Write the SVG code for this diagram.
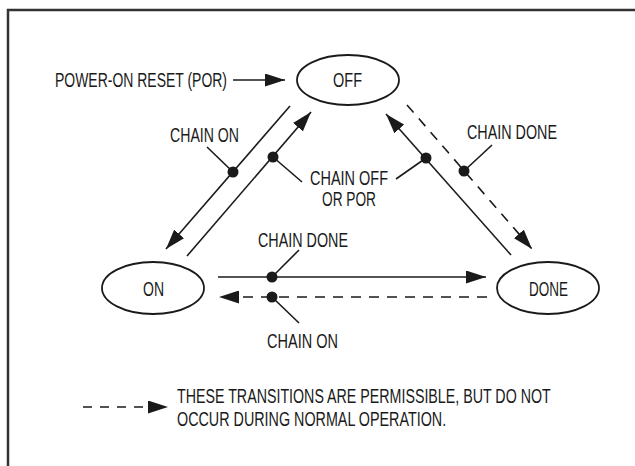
<svg xmlns="http://www.w3.org/2000/svg" width="635" height="466" viewBox="0 0 635 466">
<style>
text{font-family:"Liberation Sans",Arial,sans-serif;font-size:20px;fill:#1a1a1a}
.st{stroke:#1a1a1a;stroke-width:1.6;fill:none}
.ds{stroke-dasharray:10 8}
.dot{fill:#1a1a1a}
.node ellipse{fill:#fff;stroke:#1a1a1a;stroke-width:1.8}
</style>
<defs>
<marker id="ah" markerUnits="userSpaceOnUse" markerWidth="20" markerHeight="13" refX="20" refY="6.5" orient="auto">
<path d="M0,0 L20,6.5 L0,13 z" fill="#1a1a1a"/>
</marker>
</defs>
<rect width="635" height="466" fill="#fff"/>
<path d="M8,466 V10 H635" fill="none" stroke="#333" stroke-width="2.5"/>
<g id="node-off" class="node">
<ellipse cx="348" cy="80" rx="51" ry="25"/>
<text x="333" y="87" textLength="29" lengthAdjust="spacingAndGlyphs">OFF</text>
</g>
<g id="node-on" class="node">
<ellipse cx="153" cy="288" rx="51" ry="26"/>
<text x="143" y="296" textLength="21" lengthAdjust="spacingAndGlyphs">ON</text>
</g>
<g id="node-done" class="node">
<ellipse cx="548" cy="288" rx="51" ry="26"/>
<text x="529" y="296" textLength="39" lengthAdjust="spacingAndGlyphs">DONE</text>
</g>
<g id="connectors">
<line class="st" x1="233" y1="80" x2="285" y2="80" marker-end="url(#ah)"/>
<line class="st" x1="290" y1="106" x2="166" y2="249" marker-end="url(#ah)"/>
<line class="st" x1="187" y1="256" x2="311" y2="112" marker-end="url(#ah)"/>
<line class="st" x1="511" y1="255" x2="386" y2="114" marker-end="url(#ah)"/>
<line class="st ds" x1="407" y1="105" x2="532" y2="249" marker-end="url(#ah)"/>
<line class="st" x1="218" y1="277" x2="486" y2="277" marker-end="url(#ah)"/>
<line class="st ds" x1="487" y1="297" x2="219" y2="297" marker-end="url(#ah)"/>
<line class="st" x1="207" y1="147" x2="233" y2="172"/>
<line class="st" x1="302" y1="182" x2="273" y2="157"/>
<line class="st" x1="396" y1="179" x2="426" y2="158"/>
<line class="st" x1="492" y1="145" x2="464" y2="171"/>
<line class="st" x1="299" y1="250" x2="272" y2="277"/>
<line class="st" x1="272" y1="297" x2="299" y2="323"/>
<circle class="dot" cx="233" cy="172" r="5.5"/>
<circle class="dot" cx="273" cy="157" r="5.5"/>
<circle class="dot" cx="426" cy="158" r="5.5"/>
<circle class="dot" cx="464" cy="171" r="5.5"/>
<circle class="dot" cx="272" cy="277" r="5.5"/>
<circle class="dot" cx="272" cy="297" r="5.5"/>
</g>
<g id="labels">
<text x="55" y="87" textLength="172" lengthAdjust="spacingAndGlyphs">POWER-ON RESET (POR)</text>
<text x="170" y="142" textLength="69" lengthAdjust="spacingAndGlyphs">CHAIN ON</text>
<text x="310" y="185" textLength="78" lengthAdjust="spacingAndGlyphs">CHAIN OFF</text>
<text x="322" y="206" textLength="54" lengthAdjust="spacingAndGlyphs">OR POR</text>
<text x="467" y="139" textLength="90" lengthAdjust="spacingAndGlyphs">CHAIN DONE</text>
<text x="258" y="247" textLength="90" lengthAdjust="spacingAndGlyphs">CHAIN DONE</text>
<text x="267" y="348" textLength="71" lengthAdjust="spacingAndGlyphs">CHAIN ON</text>
</g>
<g id="legend">
<line class="st" x1="83" y1="407" x2="168" y2="407" stroke-dasharray="9 8" marker-end="url(#ah)"/>
<text transform="translate(177,403) scale(0.712,1)">THESE TRANSITIONS ARE PERMISSIBLE, BUT DO NOT</text>
<text transform="translate(177,426) scale(0.717,1)">OCCUR DURING NORMAL OPERATION.</text>
</g>
</svg>
